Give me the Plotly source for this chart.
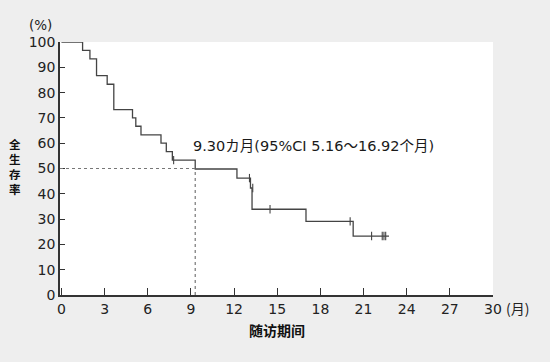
import plotly.graph_objects as go

# Kaplan-Meier step curve (months, overall survival %)
step_times = [0, 1.47, 1.98, 2.44, 3.18, 3.64, 4.94, 5.17, 5.53, 6.92, 7.29, 7.71,
              9.3, 12.2, 13.14, 13.25, 17.0, 20.28, 22.77]
step_surv = [100, 96.7, 93.3, 86.7, 83.3, 73.3, 70.0, 66.7, 63.3, 60.0, 56.7, 53.3,
             49.8, 46.2, 42.3, 33.9, 29.1, 23.3, 23.3]

# censored observations
censor_times = [7.8, 13.07, 13.3, 14.5, 20.07, 21.56, 22.3, 22.42, 22.54]
censor_surv = [53.3, 46.2, 42.3, 33.9, 29.1, 23.3, 23.3, 23.3, 23.3]

median_time = 9.3
median_surv = 50
median_label = "9.30カ月(95%CI 5.16～16.92个月)"

x_ticks = list(range(0, 31, 3))
y_ticks = list(range(0, 101, 10))

FONT = "DejaVu Sans, Noto Sans CJK SC, sans-serif"
CJK = "Noto Sans CJK SC, sans-serif"

fig = go.Figure()

fig.add_trace(go.Scatter(
    x=step_times, y=step_surv, mode="lines", line=dict(shape="hv", color="#444444", width=1.3),
    hoverinfo="skip", showlegend=False))

fig.add_trace(go.Scatter(
    x=censor_times, y=censor_surv, mode="markers",
    marker=dict(symbol="line-ns", size=6, line=dict(color="#444444", width=1.1)),
    hoverinfo="skip", showlegend=False))

# median dotted guide lines
fig.add_shape(type="line", x0=-0.1, x1=median_time, y0=median_surv, y1=median_surv,
              xref="x", yref="y", line=dict(color="#777777", width=1.2, dash="dot"))
fig.add_shape(type="line", x0=median_time, x1=median_time, y0=0, y1=median_surv,
              xref="x", yref="y", line=dict(color="#777777", width=1.2, dash="dot"))

fig.add_annotation(x=median_time - 0.3, y=58.7, xref="x", yref="y",
                   text=median_label,
                   showarrow=False, xanchor="left", yanchor="middle",
                   font=dict(family=FONT, size=14.5, color="#1a1a1a"))

def px(xp):
    return (xp - 60) / 433.0

def py(yp):
    return (295 - yp) / 253.0

fig.add_annotation(x=px(40.5), y=py(25.5), xref="paper", yref="paper", text="(%)",
                   showarrow=False, xanchor="center", yanchor="middle",
                   font=dict(family=FONT, size=13.5, color="#222222"))
fig.add_annotation(x=px(517), y=py(307.5), xref="paper", yref="paper", text="(月)",
                   showarrow=False, xanchor="center", yanchor="middle",
                   font=dict(family=CJK, size=14, color="#222222"))
fig.add_annotation(x=px(277), y=py(330), xref="paper", yref="paper", text="<b>随访期间</b>",
                   showarrow=False, xanchor="center", yanchor="middle",
                   font=dict(family=CJK, size=14, color="#111111"))
fig.add_annotation(x=px(15), y=py(166), xref="paper", yref="paper",
                   text="<b>全<br>生<br>存<br>率</b>",
                   showarrow=False, xanchor="center", yanchor="middle",
                   font=dict(family=CJK, size=11.5, color="#111111"))

fig.update_xaxes(range=[-0.1, 30], tickvals=x_ticks, ticks="inside", ticklen=7, tickwidth=1.3,
                 tickcolor="#333333", showline=True, linecolor="#333333", linewidth=1.5,
                 showgrid=False, zeroline=False, tickfont=dict(family=FONT, size=14, color="#222222"))
fig.update_yaxes(range=[0, 100], tickvals=y_ticks, ticks="inside", ticklen=5, tickwidth=1.3,
                 tickcolor="#333333", showline=True, linecolor="#333333", linewidth=1.5,
                 showgrid=False, zeroline=False, tickfont=dict(family=FONT, size=14, color="#222222"))

fig.update_layout(width=550, height=362, margin=dict(l=60, r=57, t=42, b=67),
                  paper_bgcolor="#eeeeee", plot_bgcolor="#ffffff")

fig.write_html("out.html", config={"displayModeBar": False},
               post_script="document.body.style.margin='0';document.body.style.background='#eeeeee';")
